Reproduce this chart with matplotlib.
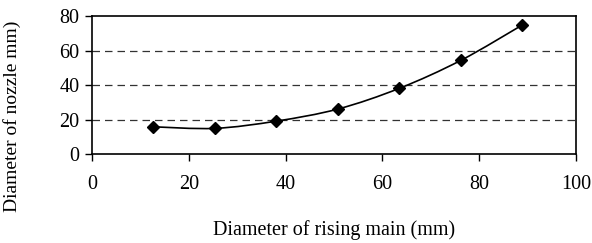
import numpy as np
import matplotlib
matplotlib.use('Agg')
import matplotlib.pyplot as plt
from matplotlib.path import Path
from matplotlib.patches import PathPatch

# rising main diameter (mm) vs nozzle diameter (mm)
riserDiameter = [12.7, 25.4, 38.1, 50.8, 63.5, 76.2, 88.9]
nozzleDiameter = [15.8, 14.9, 19.1, 26.1, 38.1, 54.3, 74.8]

xTicks = [0, 20, 40, 60, 80, 100]
yTicks = [0, 20, 40, 60, 80]


def smoothPath(x, y, tension=0.5):
    """
    Builds a bezier path through the points, like a spreadsheet smoothed line
    """
    x = np.asarray(x, dtype=float)
    y = np.asarray(y, dtype=float)
    verts = [(x[0], y[0])]
    codes = [Path.MOVETO]
    n = len(x)
    for i in range(n - 1):
        i0 = max(i - 1, 0)
        i3 = min(i + 2, n - 1)
        c1 = (x[i] + (x[i+1] - x[i0]) * tension / 3, y[i] + (y[i+1] - y[i0]) * tension / 3)
        c2 = (x[i+1] - (x[i3] - x[i]) * tension / 3, y[i+1] - (y[i3] - y[i]) * tension / 3)
        verts += [c1, c2, (x[i+1], y[i+1])]
        codes += [Path.CURVE4] * 3
    return Path(verts, codes)


plt.rcParams['font.family'] = ['Liberation Serif', 'DejaVu Serif']
plt.rcParams['font.size'] = 14.5

fig = plt.figure(figsize=(5.92, 2.43), dpi=100)
ax = fig.add_axes([0.1554, 0.366, 0.8176, 0.568])

for yv in yTicks[1:-1]:
    ax.axhline(yv, color='#333333', linewidth=0.9, linestyle=(0, (6, 4)), zorder=1)

ax.add_patch(PathPatch(smoothPath(riserDiameter, nozzleDiameter), facecolor='none',
                       edgecolor='black', linewidth=1.2, zorder=2))
ax.plot(riserDiameter, nozzleDiameter, linestyle='none', marker='D', markersize=6,
        color='black', zorder=3)

ax.set_xlim(0, 100)
ax.set_ylim(0, 80)
ax.set_xticks(xTicks)
ax.set_yticks(yTicks)
ax.tick_params(direction='out', length=5, width=1, pad=10, axis='x')
ax.tick_params(direction='out', length=5, width=1, pad=4, axis='y')
for s in ax.spines.values():
    s.set_linewidth(1.2)

ax.set_xlabel('Diameter of rising main (mm)', labelpad=19)
ax.set_ylabel('Diameter of nozzle mm)', fontsize=14)
ax.yaxis.set_label_coords(-0.147, 0.275)

plt.savefig('out.png', dpi=100)
